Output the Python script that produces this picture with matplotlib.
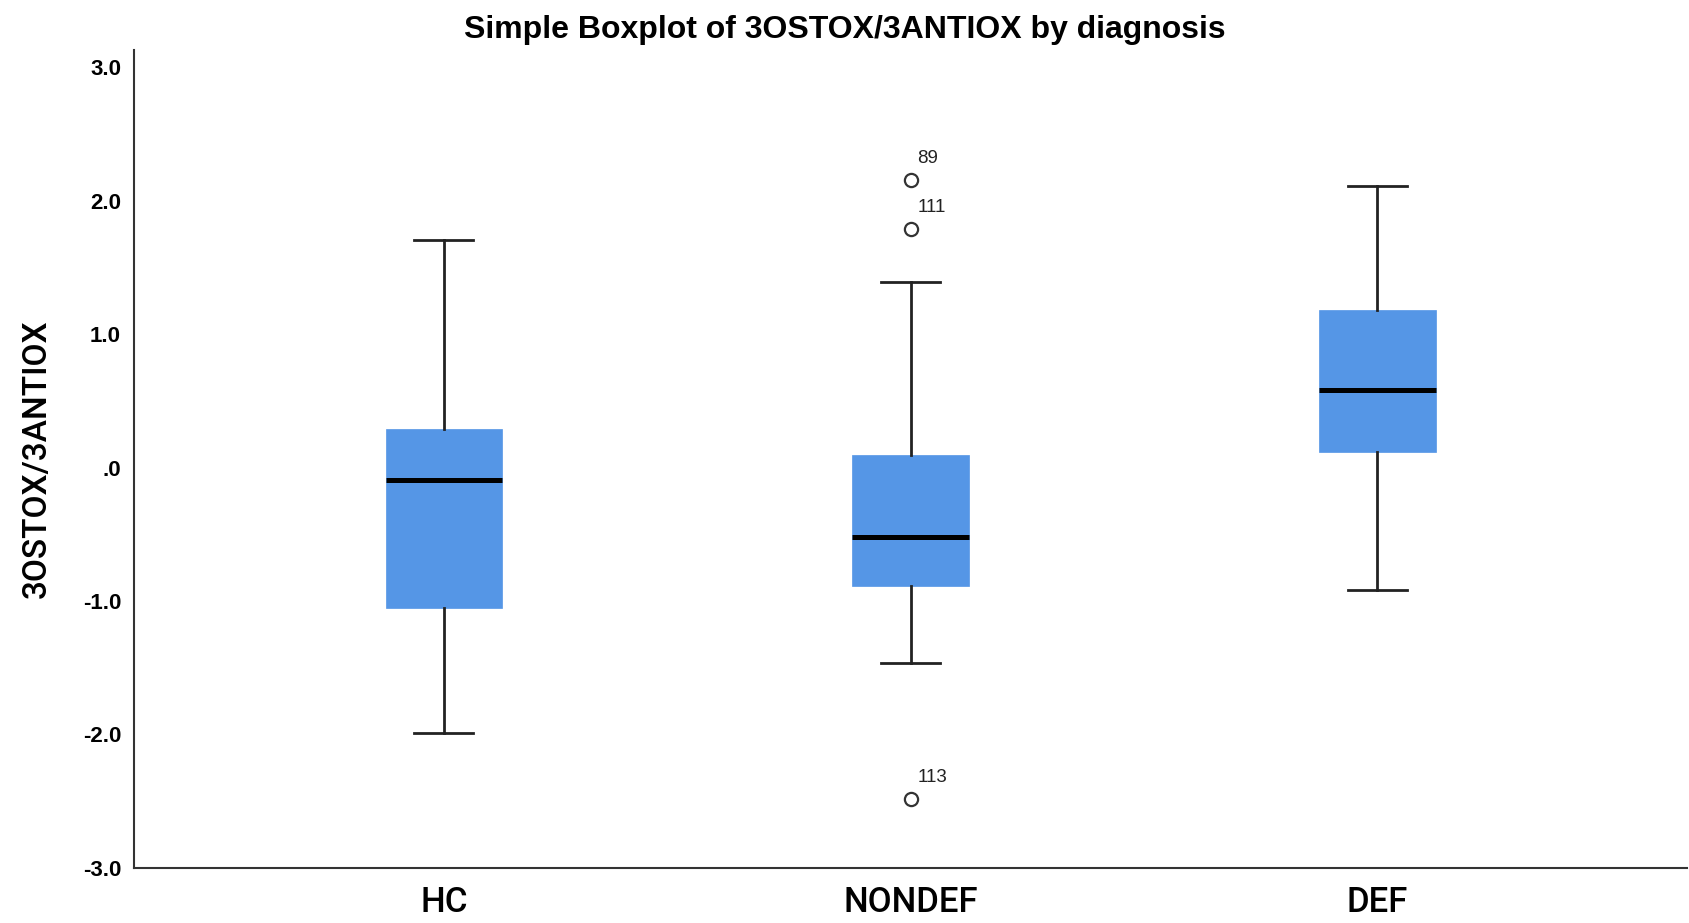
import matplotlib.pyplot as plt

groups = ['HC', 'NONDEF', 'DEF']
q1 = [-1.05, -0.89, 0.115]
median = [-0.09, -0.52, 0.58]
q3 = [0.285, 0.09, 1.18]
whislo = [-1.99, -1.465, -0.915]
whishi = [1.705, 1.39, 2.11]
outliers = [[], [2.155, 1.79, -2.48], []]
outlier_ids = [[], ['89', '111', '113'], []]

yticks = [-3.0, -2.0, -1.0, 0.0, 1.0, 2.0, 3.0]
ytick_labels = ['-3.0', '-2.0', '-1.0', '.0', '1.0', '2.0', '3.0']

box_color = '#5596E6'
line_color = '#222222'


def main():
    fig = plt.figure(figsize=(16.9, 9.23), dpi=100)
    ax = fig.add_axes([0.079, 0.0596, 0.919, 0.8866])

    stats = []
    for i, name in enumerate(groups):
        stats.append({'label': name, 'med': median[i], 'q1': q1[i], 'q3': q3[i],
                      'whislo': whislo[i], 'whishi': whishi[i], 'fliers': outliers[i]})

    positions = list(range(1, len(groups) + 1))
    ax.bxp(stats, positions=positions, widths=0.25, capwidths=0.127,
           patch_artist=True, showfliers=True,
           boxprops=dict(facecolor=box_color, edgecolor=box_color, linewidth=0.5),
           medianprops=dict(color='black', linewidth=3.6, solid_capstyle='butt'),
           whiskerprops=dict(color=line_color, linewidth=2.0),
           capprops=dict(color=line_color, linewidth=2.0),
           flierprops=dict(marker='o', markersize=9.5, markerfacecolor='white',
                           markeredgecolor='#333333', markeredgewidth=1.6))

    # case numbers next to the outliers
    for i, pos in enumerate(positions):
        for val, lab in zip(outliers[i], outlier_ids[i]):
            ax.annotate(lab, (pos, val), xytext=(5, 15), textcoords='offset points',
                        ha='left', va='center', fontsize=13.5,
                        family=['Liberation Sans', 'DejaVu Sans'], color='#222222')

    ax.set_xlim(0.335, 3.663)
    ax.set_ylim(-3.0, 3.13)
    ax.set_yticks(yticks)
    ax.set_yticklabels(ytick_labels, fontsize=16, fontweight='bold',
                       family=['Liberation Sans', 'DejaVu Sans'])
    ax.set_xticks(positions)
    ax.set_xticklabels(groups, fontsize=25, fontweight='medium',
                       family=['Roboto', 'Liberation Sans', 'DejaVu Sans'])
    ax.tick_params(axis='y', length=0, pad=9)
    ax.tick_params(axis='x', length=0, pad=13)

    for side in ['top', 'right']:
        ax.spines[side].set_visible(False)
    for side in ['left', 'bottom']:
        ax.spines[side].set_linewidth(1.5)
        ax.spines[side].set_color('#333333')

    ax.set_ylabel('3OSTOX/3ANTIOX', fontsize=24, fontweight='medium',
                  family=['Roboto', 'Liberation Sans', 'DejaVu Sans'])
    ax.yaxis.set_label_coords(-0.052, 0.5)

    fig.text(0.5, 0.968, 'Simple Boxplot of 3OSTOX/3ANTIOX by diagnosis',
             ha='center', va='center', fontsize=23, fontweight='bold',
             family=['Liberation Sans', 'DejaVu Sans'])

    fig.savefig('out.png', dpi=100)


if __name__ == "__main__":
    main()
